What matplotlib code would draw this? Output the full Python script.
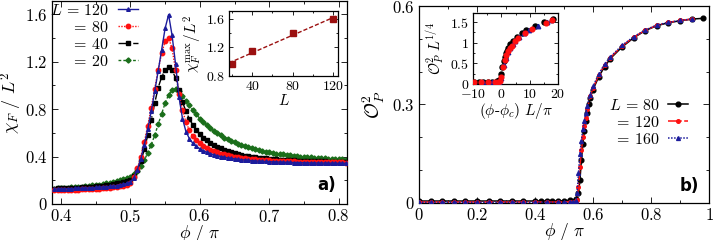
import numpy as np
import matplotlib
matplotlib.use("Agg")
import matplotlib.pyplot as plt
from matplotlib.ticker import MultipleLocator, FuncFormatter

plt.rcParams['font.family'] = 'serif'
plt.rcParams['font.serif'] = ['cmr10', 'DejaVu Serif']
plt.rcParams['mathtext.fontset'] = 'cm'
plt.rcParams['axes.formatter.use_mathtext'] = True
plt.rcParams['axes.unicode_minus'] = True

# ---------------- panel a) fidelity susceptibility ----------------
phi_a = np.linspace(0.39, 0.81, 85)

chi_120 = [0.125, 0.126, 0.127, 0.128, 0.129, 0.130, 0.131, 0.132, 0.133, 0.134,
           0.136, 0.137, 0.139, 0.141, 0.143, 0.145, 0.148, 0.151, 0.155, 0.160,
           0.166, 0.174, 0.185,
           0.22, 0.29, 0.38, 0.50, 0.63, 0.78, 0.95, 1.12, 1.30, 1.48,
           1.595, 1.42, 1.18, 0.90, 0.72, 0.61, 0.55, 0.51, 0.485, 0.465,
           0.45, 0.435, 0.425, 0.415, 0.407, 0.40, 0.394, 0.388, 0.384, 0.38,
           0.376, 0.373, 0.37, 0.367, 0.365, 0.363, 0.361, 0.359, 0.358, 0.356,
           0.355, 0.354, 0.353, 0.352, 0.351, 0.350, 0.349, 0.349, 0.348, 0.347,
           0.347, 0.346, 0.346, 0.345, 0.345, 0.345, 0.344, 0.344, 0.344, 0.343,
           0.343, 0.343]
chi_80 = [0.118, 0.118, 0.119, 0.119, 0.120, 0.120, 0.121, 0.122, 0.123, 0.124,
          0.125, 0.126, 0.128, 0.130, 0.132, 0.134, 0.137, 0.140, 0.144, 0.149,
          0.155, 0.163, 0.175,
          0.225, 0.30, 0.40, 0.52, 0.66, 0.81, 0.97, 1.13, 1.27, 1.37,
          1.40, 1.31, 1.13, 0.93, 0.79, 0.69, 0.62, 0.57, 0.535, 0.51,
          0.49, 0.472, 0.457, 0.445, 0.434, 0.425, 0.417, 0.41, 0.404, 0.398,
          0.393, 0.389, 0.385, 0.381, 0.378, 0.375, 0.373, 0.371, 0.369, 0.367,
          0.365, 0.364, 0.362, 0.361, 0.36, 0.359, 0.358, 0.357, 0.356, 0.355,
          0.355, 0.354, 0.353, 0.353, 0.352, 0.352, 0.351, 0.351, 0.35, 0.35,
          0.35, 0.349]
chi_40 = [0.13, 0.131, 0.132, 0.133, 0.134, 0.135, 0.136, 0.137, 0.139, 0.141,
          0.143, 0.145, 0.148, 0.151, 0.154, 0.158, 0.162, 0.167, 0.173, 0.179,
          0.186, 0.195, 0.205,
          0.235, 0.285, 0.36, 0.46, 0.58, 0.71, 0.85, 0.98, 1.07, 1.13,
          1.15, 1.13, 1.06, 0.96, 0.86, 0.78, 0.715, 0.665, 0.625, 0.59,
          0.56, 0.535, 0.515, 0.497, 0.482, 0.468, 0.456, 0.445, 0.436, 0.428,
          0.421, 0.414, 0.408, 0.403, 0.398, 0.394, 0.39, 0.387, 0.384, 0.381,
          0.378, 0.376, 0.374, 0.372, 0.37, 0.368, 0.367, 0.365, 0.364, 0.363,
          0.362, 0.361, 0.36, 0.359, 0.358, 0.358, 0.357, 0.356, 0.356, 0.355,
          0.355, 0.354]
chi_20 = [0.13, 0.132, 0.134, 0.136, 0.138, 0.14, 0.142, 0.144, 0.147, 0.15,
          0.153, 0.156, 0.16, 0.164, 0.168, 0.173, 0.178, 0.184, 0.191, 0.199,
          0.208, 0.218, 0.23,
          0.25, 0.28, 0.32, 0.37, 0.43, 0.50, 0.58, 0.67, 0.76, 0.85,
          0.92, 0.96, 0.97, 0.95, 0.91, 0.87, 0.83, 0.79, 0.755, 0.72,
          0.69, 0.665, 0.64, 0.617, 0.596, 0.577, 0.56, 0.545, 0.531, 0.518,
          0.506, 0.495, 0.485, 0.476, 0.468, 0.46, 0.453, 0.447, 0.441, 0.435,
          0.43, 0.425, 0.421, 0.417, 0.413, 0.41, 0.406, 0.403, 0.4, 0.397,
          0.395, 0.392, 0.39, 0.388, 0.386, 0.384, 0.382, 0.38, 0.378, 0.377,
          0.375, 0.374]

L_max = [20, 40, 80, 120]
chi_max = [0.97, 1.15, 1.40, 1.595]

# ---------------- panel b) order parameter ----------------
phi_80 = [0.0, 0.04, 0.08, 0.12, 0.16, 0.20, 0.24, 0.28, 0.32, 0.36, 0.40,
          0.42, 0.44, 0.46, 0.48, 0.50, 0.52, 0.54, 0.55, 0.555, 0.56, 0.565,
          0.57, 0.575, 0.58, 0.585, 0.59, 0.60, 0.62, 0.64, 0.66, 0.70, 0.74,
          0.78, 0.82, 0.86, 0.90, 0.94, 0.98]
op_80 = [0.006, 0.006, 0.006, 0.006, 0.006, 0.006, 0.006, 0.006, 0.006, 0.006,
         0.006, 0.006, 0.006, 0.006, 0.006, 0.007, 0.008, 0.012, 0.03, 0.07,
         0.13, 0.18, 0.22, 0.25, 0.275, 0.30, 0.32, 0.345, 0.385, 0.415, 0.44,
         0.475, 0.503, 0.525, 0.54, 0.549, 0.555, 0.56, 0.5625]
phi_120 = [0.0, 0.04, 0.08, 0.12, 0.16, 0.20, 0.24, 0.28, 0.32, 0.36, 0.40,
           0.44, 0.48, 0.52, 0.54, 0.545, 0.55, 0.555, 0.56, 0.565, 0.57,
           0.575, 0.58, 0.59, 0.60, 0.62, 0.64, 0.66, 0.70, 0.74, 0.78, 0.82,
           0.86, 0.90, 0.94]
op_120 = [0.003, 0.003, 0.003, 0.003, 0.003, 0.003, 0.003, 0.003, 0.003, 0.003,
          0.003, 0.003, 0.003, 0.004, 0.006, 0.01, 0.05, 0.11, 0.16, 0.20,
          0.235, 0.26, 0.285, 0.325, 0.35, 0.39, 0.42, 0.443, 0.478, 0.505,
          0.526, 0.541, 0.55, 0.556, 0.56]
phi_160 = [0.0, 0.04, 0.08, 0.12, 0.16, 0.20, 0.24, 0.28, 0.32, 0.36, 0.40,
           0.44, 0.48, 0.50, 0.52, 0.53, 0.54, 0.545, 0.55, 0.555, 0.56,
           0.565, 0.57, 0.575, 0.58, 0.59, 0.60, 0.62, 0.64, 0.66, 0.70,
           0.74, 0.78, 0.82, 0.86, 0.90, 0.94]
op_160 = [0.002, 0.002, 0.002, 0.002, 0.002, 0.002, 0.002, 0.002, 0.002, 0.002,
          0.002, 0.002, 0.002, 0.002, 0.002, 0.003, 0.005, 0.03, 0.09, 0.15,
          0.19, 0.225, 0.25, 0.275, 0.295, 0.33, 0.355, 0.393, 0.423, 0.445,
          0.48, 0.506, 0.527, 0.542, 0.55, 0.556, 0.56]

# scaling collapse (inset b)
xs_80 = [-9.6, -8.0, -6.4, -4.8, -3.2, -1.6, -0.8, 0.0, 0.4, 0.8, 1.2, 1.6,
         2.0, 2.4, 3.2, 4.0, 5.6, 7.2, 8.8, 12.0, 15.2, 18.4]
ys_80 = [0.06, 0.06, 0.06, 0.06, 0.06, 0.07, 0.10, 0.25, 0.42, 0.55, 0.66,
         0.74, 0.81, 0.87, 0.96, 1.03, 1.14, 1.23, 1.30, 1.41, 1.50, 1.57]
xs_120 = [-9.6, -7.2, -4.8, -2.4, -1.2, -0.6, 0.0, 0.6, 1.2, 1.8, 2.4, 3.0,
          3.6, 4.8, 6.0, 8.4, 10.8, 15.6, 18.0]
ys_120 = [0.05, 0.05, 0.05, 0.05, 0.06, 0.08, 0.18, 0.42, 0.58, 0.70, 0.79,
          0.87, 0.93, 1.03, 1.11, 1.24, 1.33, 1.49, 1.56]
xs_160 = [-9.6, -6.4, -3.2, -1.6, -0.8, 0.0, 0.8, 1.6, 2.4, 3.2, 4.0, 4.8,
          6.4, 8.0, 9.6, 12.8, 16.0, 17.6]
ys_160 = [0.04, 0.04, 0.04, 0.05, 0.06, 0.15, 0.45, 0.64, 0.78, 0.88, 0.96,
          1.03, 1.14, 1.23, 1.30, 1.41, 1.50, 1.55]

c_blue = '#1c1c9c'
c_red = '#ff1010'
c_black = '#000000'
c_green = '#1a6e1a'
c_dred = '#9b1010'


def gfmt(v, p):
    return f'${v:g}$'


def style(ax, fs=12, length=4):
    ax.tick_params(which='both', direction='in', top=True, right=True,
                   labelsize=fs, pad=3)
    ax.tick_params(which='major', length=length, width=0.6)
    ax.tick_params(which='minor', length=length * 0.55, width=0.6)
    ax.xaxis.set_major_formatter(FuncFormatter(gfmt))
    ax.yaxis.set_major_formatter(FuncFormatter(gfmt))
    for s in ax.spines.values():
        s.set_linewidth(0.9)


fig = plt.figure(figsize=(7.14, 2.4), dpi=100)

# ---- a) main ----
ax1 = fig.add_axes([0.0728, 0.15, 0.4132, 0.846])
ax1.plot(phi_a, chi_20, ls=(0, (2, 1.5)), color=c_green, marker='D', ms=2.6,
         lw=1, label=r'$=\,20$', zorder=2)
ax1.plot(phi_a, chi_40, ls='-.', color=c_black, marker='s', ms=2.8,
         lw=1, label=r'$=\,40$', zorder=3)
ax1.plot(phi_a, chi_80, ls=(0, (1, 1)), color=c_red, marker='o', ms=3.2,
         lw=1, label=r'$=\,80$', zorder=4)
ax1.plot(phi_a, chi_120, ls='-', color=c_blue, marker='^', ms=2.6,
         lw=1, label=r'$L\,=\,120$', zorder=5)
ax1.set_xlim(0.387, 0.812)
ax1.set_ylim(0, 1.71)
ax1.xaxis.set_major_locator(MultipleLocator(0.1))
ax1.xaxis.set_minor_locator(MultipleLocator(0.05))
ax1.yaxis.set_major_locator(MultipleLocator(0.4))
ax1.yaxis.set_minor_locator(MultipleLocator(0.2))
style(ax1)
ax1.set_xlabel(r'$\phi\ /\ \pi$', fontsize=12.5, labelpad=-1.5)
ax1.set_ylabel(r'$\chi_F\ /\ L^2$', fontsize=13, labelpad=1)
h, l = ax1.get_legend_handles_labels()
ax1.legend(h[::-1], l[::-1], loc='upper right', bbox_to_anchor=(0.29, 0.99),
           frameon=False, markerfirst=False, fontsize=11.5, handlelength=1.2,
           handletextpad=0.6, labelspacing=0.12, borderpad=0, borderaxespad=0)
ax1.text(0.962, 0.095, 'a)', transform=ax1.transAxes, ha='right', va='center',
         fontsize=12, fontweight='bold', family='DejaVu Sans')

# ---- a) inset ----
ax1i = fig.add_axes([0.3207, 0.6833, 0.1527, 0.2708])
fit = np.polyfit(L_max, chi_max, 1)
Lfit = np.array([17, 125])
ax1i.plot(Lfit, np.polyval(fit, Lfit), ls=(0, (3, 1.5)), color=c_dred, lw=1)
ax1i.plot(L_max, chi_max, ls='none', marker='s', ms=4, color=c_dred)
ax1i.set_xlim(17, 125)
ax1i.set_ylim(0.8, 1.71)
ax1i.xaxis.set_major_locator(MultipleLocator(40))
ax1i.xaxis.set_minor_locator(MultipleLocator(20))
ax1i.yaxis.set_major_locator(MultipleLocator(0.4))
ax1i.yaxis.set_minor_locator(MultipleLocator(0.2))
style(ax1i, fs=10, length=3)
ax1i.set_xlabel(r'$L$', fontsize=11, labelpad=0)
ax1i.set_ylabel(r'$\chi_F^{\max}/L^2$', fontsize=11, labelpad=1)

# ---- b) main ----
ax2 = fig.add_axes([0.5868, 0.1542, 0.4062, 0.8208])
ax2.plot(phi_80, op_80, ls='-', color=c_black, marker='o', ms=3.4, lw=1.1,
         label=r'$L\,=\,80$', zorder=3)
ax2.plot(phi_120, op_120, ls='-.', color=c_red, marker='o', ms=2.6, lw=1.1,
         label=r'$=\,120$', zorder=4)
ax2.plot(phi_160, op_160, ls=(0, (1, 1)), color=c_blue, marker='^', ms=2.8,
         lw=1.1, label=r'$=\,160$', zorder=5)
ax2.set_xlim(0, 1)
ax2.set_ylim(0, 0.6)
ax2.xaxis.set_major_locator(MultipleLocator(0.2))
ax2.xaxis.set_minor_locator(MultipleLocator(0.1))
ax2.yaxis.set_major_locator(MultipleLocator(0.3))
ax2.yaxis.set_minor_locator(MultipleLocator(0.1))
style(ax2)
ax2.set_xlabel(r'$\phi\ /\ \pi$', fontsize=12.5, labelpad=-1.5)
ax2.set_ylabel(r'$\mathcal{O}_P^2$', fontsize=14, labelpad=4)
ax2.legend(loc='center right', bbox_to_anchor=(0.928, 0.41), frameon=False,
           markerfirst=False, fontsize=11.5, handlelength=1.25,
           handletextpad=0.5, labelspacing=0.12, borderpad=0, borderaxespad=0)
ax2.text(0.965, 0.085, 'b)', transform=ax2.transAxes, ha='right', va='center',
         fontsize=12, fontweight='bold', family='DejaVu Sans')

# ---- b) inset ----
ax2i = fig.add_axes([0.6625, 0.65, 0.119, 0.2958])
ax2i.plot(xs_80, ys_80, ls='none', marker='o', ms=3.6, color=c_black, zorder=3)
ax2i.plot(xs_160, ys_160, ls='none', marker='^', ms=3.2, color=c_blue, zorder=4)
ax2i.plot(xs_120, ys_120, ls='none', marker='o', ms=3.4, color=c_red, zorder=5)
ax2i.set_xlim(-10, 20)
ax2i.set_ylim(0, 1.72)
ax2i.xaxis.set_major_locator(MultipleLocator(10))
ax2i.xaxis.set_minor_locator(MultipleLocator(5))
ax2i.yaxis.set_major_locator(MultipleLocator(0.5))
ax2i.yaxis.set_minor_locator(MultipleLocator(0.25))
style(ax2i, fs=10, length=3)
ax2i.set_xlabel(r'$(\phi$-$\phi_c)\ L/\pi$', fontsize=11, labelpad=0)
ax2i.set_ylabel(r'$\mathcal{O}_P^2\ L^{1/4}$', fontsize=10.5, labelpad=3)

fig.savefig('out.png', dpi=100)
